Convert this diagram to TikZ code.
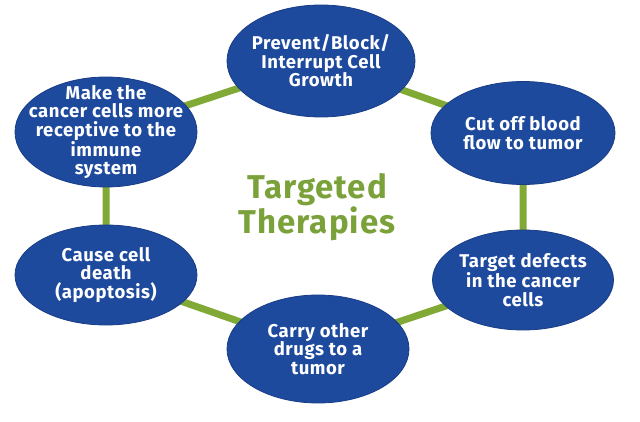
\documentclass[tikz,border=0pt]{standalone}
\usepackage{fontspec}
\setmainfont{Fira Sans}[LetterSpace=3]
\usetikzlibrary{shapes.geometric}
\definecolor{bub}{HTML}{1E4A9E}
\definecolor{bubedge}{HTML}{183C86}
\definecolor{conn}{HTML}{80AA35}
\definecolor{title}{HTML}{7BA23A}
\tikzset{
  bubble/.style 2 args={ellipse, fill=bub, draw=bubedge, line width=0.8pt, inner sep=0pt,
    minimum width=#1, minimum height=#2},
  btext/.style={text=white, font=\bfseries\fontsize{18.5}{18.5}\selectfont, align=center, inner sep=0pt},
  connline/.style={draw=conn, line width=7pt}
}
\begin{document}
\begin{tikzpicture}[x=1pt,y=-1pt]
\useasboundingbox[fill=white] (0,0) rectangle (640,422);
\coordinate (c1) at (321,61);
\coordinate (c2) at (523,133);
\coordinate (c3) at (523,280);
\coordinate (c4) at (318,349);
\coordinate (c5) at (106,275);
\coordinate (c6) at (106,132);
\draw[connline] (c1) -- (c2) -- (c3) -- (c4) -- (c5) -- (c6) -- (c1);
\node[bubble={188pt}{112pt}] (n1) at (c1) {};
\node[bubble={184pt}{103pt}] (n2) at (c2) {};
\node[bubble={181pt}{100pt}] (n3) at (c3) {};
\node[bubble={182pt}{108pt}] (n4) at (c4) {};
\node[bubble={182pt}{100pt}] (n5) at (c5) {};
\node[bubble={182pt}{110pt}] (n6) at (c6) {};
\node[btext] (t1) at (n1) {Prevent/Block/\\Interrupt Cell\\Growth};
\node[btext] (t2) at (n2) {Cut off blood\\flow to tumor};
\node[btext] (t3) at (n3) {Target defects\\in the cancer\\cells};
\node[btext] (t4) at (n4) {Carry other\\drugs to a\\tumor};
\node[btext] (t5) at (n5) {Cause cell\\death\\(apoptosis)};
\node[btext] (t6) at (n6) {Make the\\cancer cells more\\receptive to the\\immune\\system};
\node[text=title, font=\bfseries\fontsize{33}{35}\selectfont, align=center, inner sep=0pt] (title) at (317,207) {Targeted\\Therapies};
\end{tikzpicture}
\end{document}
